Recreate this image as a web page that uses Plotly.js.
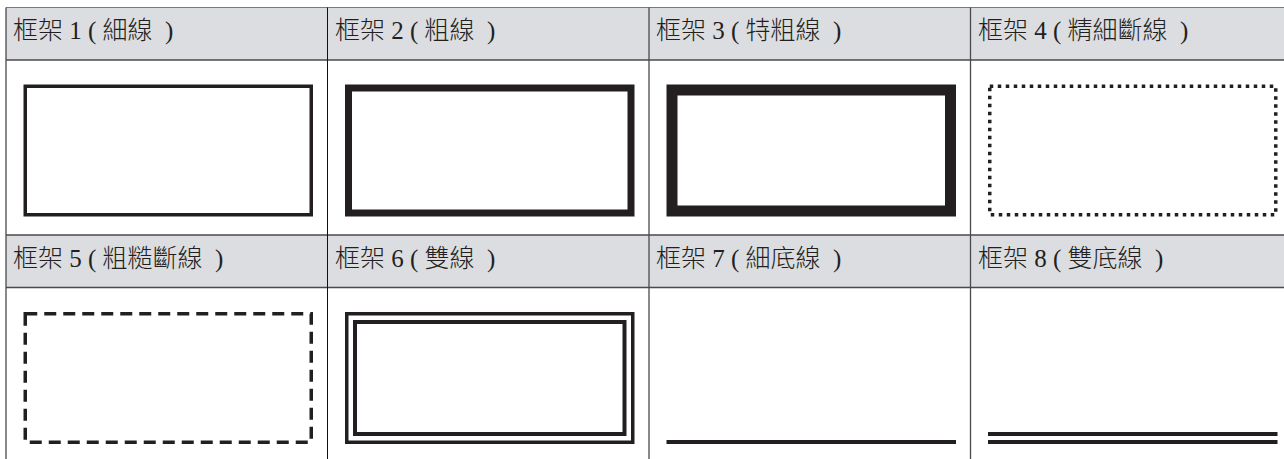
<!DOCTYPE html>
<html>
<head>
<meta charset="utf-8">
<script src="https://cdn.plot.ly/plotly-3.0.1.min.js"></script>
<style>html,body{margin:0;padding:0;background:#fff;}#chart{width:1284px;height:459px;}</style>
</head>
<body>
<div id="chart"></div>
<script>
// ---- data ----
const frameNumbers = [1, 2, 3, 4, 5, 6, 7, 8];
const frameStyles = ['細線', '粗線', '特粗線', '精細斷線', '粗糙斷線', '雙線', '細底線', '雙底線'];
const frameKinds = ['rect', 'rect', 'rect', 'rect', 'rect', 'double', 'bottom', 'doubleBottom'];

// ---- layout constants ----
const W = 1284, H = 459;
const gridLeft = 6, gridTop = 7.5, colW = 321.5, headH = 52.5, bodyH = 175;
const nCols = 4;
const ink = '#231f20';
const headFill = '#dcdde0';
const gridColor = '#4a4a4a';

const styleSpec = {
  1: {w: 3.5, dash: 'solid'},
  2: {w: 7, dash: 'solid'},
  3: {w: 11, dash: 'solid'},
  4: {w: 3.5, dash: '3.5px,4.5px'},
  5: {w: 3.5, dash: '12px,7px'},
  6: {w: 3.5, dash: 'solid'},
  7: {w: 4, dash: 'solid'},
  8: {w: 4, dash: 'solid'}
};

const shapes = [];
const annotations = [];
const nRows = Math.ceil(frameNumbers.length / nCols);

// header fills
for (let r = 0; r < nRows; r++) {
  const y0 = gridTop + r * (headH + bodyH);
  shapes.push({type: 'rect', xref: 'x', yref: 'y', x0: gridLeft, x1: W + 5, y0: y0, y1: y0 + headH,
    fillcolor: headFill, line: {width: 0}, layer: 'below'});
}
// horizontal grid lines
for (let r = 0; r < nRows; r++) {
  const y0 = gridTop + r * (headH + bodyH);
  shapes.push({type: 'line', xref: 'x', yref: 'y', x0: gridLeft, x1: W + 5, y0: y0, y1: y0,
    line: {color: r === 0 ? '#7a7a7a' : gridColor, width: r === 0 ? 1.2 : 1.4}});
  shapes.push({type: 'line', xref: 'x', yref: 'y', x0: gridLeft, x1: W + 5, y0: y0 + headH, y1: y0 + headH,
    line: {color: gridColor, width: 1.4}});
}
// vertical grid lines
for (let c = 0; c < nCols; c++) {
  const x = gridLeft + c * colW;
  shapes.push({type: 'line', xref: 'x', yref: 'y', x0: x, x1: x, y0: gridTop, y1: H + 5,
    line: {color: c === 1 ? '#111' : gridColor, width: c === 1 ? 1 : 1.3}});
}

function rectPath(x0, y0, x1, y1, w, dash) {
  shapes.push({type: 'rect', xref: 'x', yref: 'y',
    x0: x0 + w / 2, x1: x1 - w / 2, y0: y0 + w / 2, y1: y1 - w / 2,
    fillcolor: 'rgba(0,0,0,0)', line: {color: ink, width: w, dash: dash}});
}
function hLine(x0, x1, y, w) {
  shapes.push({type: 'line', xref: 'x', yref: 'y', x0: x0, x1: x1, y0: y, y1: y,
    line: {color: ink, width: w}});
}

const wide = '\u2002';
frameNumbers.forEach((n, i) => {
  const col = i % nCols, row = Math.floor(i / nCols);
  const cx = gridLeft + col * colW;
  const cy = gridTop + row * (headH + bodyH);
  // header label
  annotations.push({xref: 'x', yref: 'y', x: cx + 5, y: cy + headH / 2 - 2.5,
    xanchor: 'left', yanchor: 'middle', showarrow: false,
    text: '框架 ' + n + ' ( ' + frameStyles[i] + wide + ')',
    font: {family: 'Liberation Serif, Noto Sans CJK TC, serif', size: 25, color: ink, weight: 300}});
  // frame sample
  const bx0 = cx + 17.5, bx1 = bx0 + 289.5;
  const by0 = cy + headH + 24.5, by1 = by0 + 132;
  const s = styleSpec[n];
  const kind = frameKinds[i];
  if (kind === 'rect') {
    rectPath(bx0, by0, bx1, by1, s.w, s.dash);
  } else if (kind === 'double') {
    rectPath(bx0, by0, bx1, by1, s.w, 'solid');
    rectPath(bx0 + 8, by0 + 8, bx1 - 8, by1 - 8, 4, 'solid');
  } else if (kind === 'bottom') {
    hLine(bx0, bx1, by1 - s.w / 2, s.w);
  } else if (kind === 'doubleBottom') {
    hLine(bx0, bx1, by1 - s.w / 2, s.w);
    hLine(bx0, bx1, by1 - s.w / 2 - 8, s.w);
  }
});

const layout = {
  width: W, height: H,
  margin: {l: 0, r: 0, t: 0, b: 0, pad: 0},
  paper_bgcolor: '#fff', plot_bgcolor: '#fff',
  xaxis: {range: [0, W], visible: false, fixedrange: true},
  yaxis: {range: [H, 0], visible: false, fixedrange: true},
  showlegend: false,
  shapes: shapes,
  annotations: annotations
};

Plotly.newPlot('chart', [{x: [], y: [], type: 'scatter', mode: 'markers', hoverinfo: 'skip'}], layout,
  {staticPlot: true, displayModeBar: false});
</script>
</body>
</html>
